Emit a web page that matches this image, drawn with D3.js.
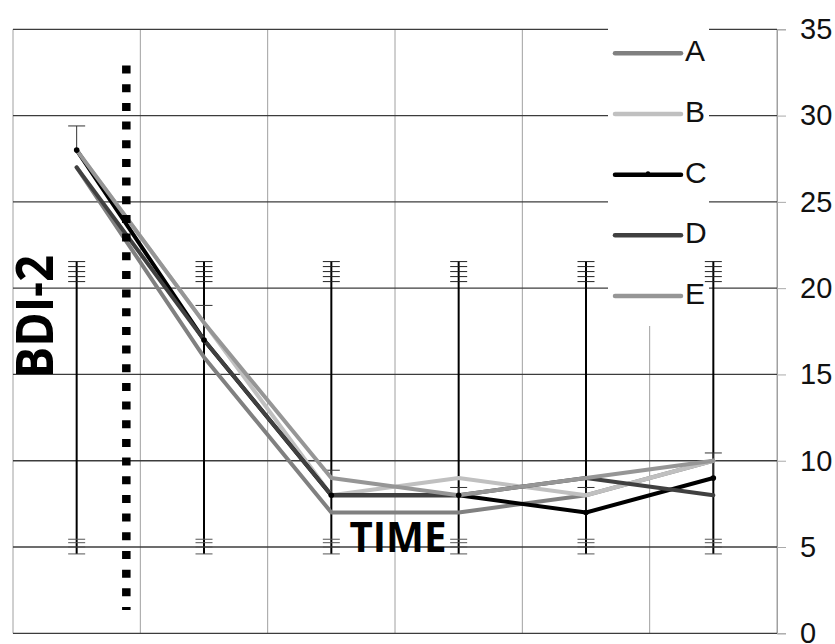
<!DOCTYPE html>
<html>
<head>
    <meta charset="utf-8">
    <title>BDI-2 over time</title>
    <script src="https://d3js.org/d3.v7.min.js"></script>
    <style>
        html, body { margin: 0; padding: 0; background: #fff; }
    </style>
</head>
<body>
    <div id="chart"></div>
    <script>
        // data
        const timepoints = ["T1", "T2", "T3", "T4", "T5", "T6"];
        const seriesNames = ["A", "B", "C", "D", "E"];
        const seriesA = [27, 16, 7, 7, 8, 10];
        const seriesB = [28, 18, 8, 9, 8, 10];
        const seriesC = [28, 17, 8, 8, 7, 9];
        const seriesD = [27, 17, 8, 8, 9, 8];
        const seriesE = [28, 18, 9, 8, 9, 10];
        const seriesC_errPlus = [1.4, 2, 1.45, 0.45, 1.45, 1.45];
        // the wide error bars that repeat at every time point
        const wideErrTop = [21.54, 21.25, 20.96, 20.67, 20.38];
        const wideErrBottom = [5.45, 5.25, 5.0, 4.6];
        const yTicks = [0, 5, 10, 15, 20, 25, 30, 35];
        const markerPos = 0.39;        // dotted line, between T1 and T2
        const markerRange = [32.9, 1.35];

        const colors = ["#808080", "#c0c0c0", "#000000", "#404040", "#969696"];
        const allSeries = [seriesA, seriesB, seriesC, seriesD, seriesE];

        const W = 835, H = 644;
        const plotLeft = 13, plotRight = 777, plotTop = 29.3, plotBottom = 633.3;

        const svg = d3.select("#chart").append("svg")
            .attr("width", W)
            .attr("height", H)
            .style("display", "block");

        svg.append("rect").attr("width", W).attr("height", H).attr("fill", "#fff");

        const x = d3.scaleLinear()
            .domain([-0.5, timepoints.length - 0.5])
            .range([plotLeft, plotRight]);
        const y = d3.scaleLinear().domain([0, 35]).range([plotBottom, plotTop]);

        // vertical gridlines (column borders)
        const colEdges = d3.range(timepoints.length + 1).map(i => i - 0.5);
        svg.append("g").selectAll("line")
            .data(colEdges)
            .enter()
            .append("line")
            .attr("x1", d => x(d)).attr("x2", d => x(d))
            .attr("y1", y(35)).attr("y2", y(0))
            .attr("stroke", "#a0a0a0")
            .attr("stroke-width", 1);

        // horizontal gridlines
        svg.append("g").selectAll("line")
            .data(yTicks)
            .enter()
            .append("line")
            .attr("x1", plotLeft).attr("x2", plotRight)
            .attr("y1", d => y(d)).attr("y2", d => y(d))
            .attr("stroke", "#3c3c3c")
            .attr("stroke-width", 1.3);

        // right axis
        const yAxis = d3.axisRight(y).tickValues(yTicks).tickSize(9).tickPadding(14);
        const ax = svg.append("g")
            .attr("transform", `translate(${plotRight},0)`)
            .call(yAxis);
        ax.select(".domain").attr("stroke", "#a0a0a0");
        ax.selectAll(".tick line").attr("stroke", "#aaaaaa");
        ax.selectAll(".tick text")
            .attr("font-family", "'Liberation Sans', Arial, sans-serif")
            .attr("font-size", 29)
            .attr("fill", "#111");

        // legend background box (hides gridlines behind it)
        svg.append("rect")
            .attr("x", 608).attr("y", 27)
            .attr("width", 101).attr("height", 299)
            .attr("fill", "#fff");

        // wide error bars
        const ebars = svg.append("g");
        ebars.selectAll("line.stem")
            .data(timepoints)
            .enter()
            .append("line")
            .attr("class", "stem")
            .attr("x1", (d, i) => x(i)).attr("x2", (d, i) => x(i))
            .attr("y1", y(d3.max(wideErrTop)))
            .attr("y2", y(d3.min(wideErrBottom)))
            .attr("stroke", "#000")
            .attr("stroke-width", 2);

        const capData = [];
        timepoints.forEach((t, i) => {
            wideErrTop.forEach(v => capData.push({ i: i, v: v, c: "#222" }));
            wideErrBottom.forEach(v => capData.push({ i: i, v: v, c: "#555" }));
        });
        ebars.selectAll("line.cap")
            .data(capData)
            .enter()
            .append("line")
            .attr("class", "cap")
            .attr("x1", d => x(d.i) - 8.5).attr("x2", d => x(d.i) + 8.5)
            .attr("y1", d => y(d.v)).attr("y2", d => y(d.v))
            .attr("stroke", d => d.c)
            .attr("stroke-width", 1);

        // series C error bars (plus only)
        const cErr = svg.append("g");
        cErr.selectAll("line.stem")
            .data(seriesC)
            .enter()
            .append("line")
            .attr("class", "stem")
            .attr("x1", (d, i) => x(i)).attr("x2", (d, i) => x(i))
            .attr("y1", d => y(d))
            .attr("y2", (d, i) => y(d + seriesC_errPlus[i]))
            .attr("stroke", "#333")
            .attr("stroke-width", 1);
        cErr.selectAll("line.cap")
            .data(seriesC)
            .enter()
            .append("line")
            .attr("class", "cap")
            .attr("x1", (d, i) => x(i) - 8.5).attr("x2", (d, i) => x(i) + 8.5)
            .attr("y1", (d, i) => y(d + seriesC_errPlus[i]))
            .attr("y2", (d, i) => y(d + seriesC_errPlus[i]))
            .attr("stroke", "#333")
            .attr("stroke-width", 1);

        // series lines
        const line = d3.line()
            .x((d, i) => x(i))
            .y(d => y(d));
        svg.append("g").selectAll("path")
            .data(allSeries)
            .enter()
            .append("path")
            .attr("d", line)
            .attr("fill", "none")
            .attr("stroke", (d, i) => colors[i])
            .attr("stroke-width", 4)
            .attr("stroke-linejoin", "round")
            .attr("stroke-linecap", "round");

        // small markers on series C
        svg.append("g").selectAll("circle")
            .data(seriesC)
            .enter()
            .append("circle")
            .attr("cx", (d, i) => x(i))
            .attr("cy", d => y(d))
            .attr("r", 2.8)
            .attr("fill", "#000");

        // dotted vertical marker
        svg.append("line")
            .attr("x1", x(markerPos)).attr("x2", x(markerPos))
            .attr("y1", y(markerRange[0])).attr("y2", y(markerRange[1]))
            .attr("stroke", "#000")
            .attr("stroke-width", 8.5)
            .attr("stroke-dasharray", "8,10.67");

        // legend
        const ly = d3.scalePoint().domain(seriesNames).range([53.3, 296]);
        const leg = svg.append("g").selectAll("g")
            .data(seriesNames)
            .enter()
            .append("g")
            .attr("transform", d => `translate(0,${ly(d)})`);
        leg.append("line")
            .attr("x1", 615).attr("x2", 681)
            .attr("stroke", (d, i) => colors[i])
            .attr("stroke-width", 4.5)
            .attr("stroke-linecap", "round");
        leg.filter(d => d === "C")
            .append("circle")
            .attr("cx", 648).attr("cy", -1.2).attr("r", 2.2)
            .attr("fill", "#000");
        leg.append("text")
            .attr("x", 685)
            .attr("y", 8)
            .attr("font-family", "'Liberation Sans', Arial, sans-serif")
            .attr("font-size", 30)
            .attr("fill", "#111")
            .text(d => d);

        // axis titles
        svg.append("text")
            .attr("transform", "translate(34.7,316.7) rotate(-90)")
            .attr("y", 18.5)
            .attr("text-anchor", "middle")
            .attr("font-family", "'Open Sans', sans-serif")
            .attr("font-weight", "bold")
            .attr("font-size", 52)
            .attr("textLength", 123)
            .attr("lengthAdjust", "spacingAndGlyphs")
            .attr("fill", "#000")
            .text("BDI-2");

        svg.append("text")
            .attr("x", 398)
            .attr("y", 551.7)
            .attr("text-anchor", "middle")
            .attr("font-family", "'Open Sans', sans-serif")
            .attr("font-weight", "bold")
            .attr("font-size", 42)
            .attr("textLength", 97)
            .attr("lengthAdjust", "spacingAndGlyphs")
            .attr("fill", "#000")
            .text("TIME");
    </script>
</body>
</html>
